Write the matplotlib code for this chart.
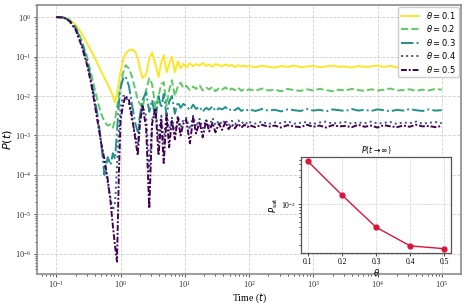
import numpy as np
import matplotlib
matplotlib.use("Agg")
import matplotlib.pyplot as plt

plt.rcParams['font.family'] = ['Liberation Serif', 'DejaVu Serif']
plt.rcParams['mathtext.fontset'] = 'dejavusans'

# time grid
t = [0.1, 0.13, 0.16, 0.2, 0.25, 0.3, 0.35, 0.4, 0.45, 0.5,
     0.56, 0.63, 0.7, 0.76, 0.82, 0.88, 0.94, 1.0, 1.1, 1.2,
     1.35, 1.5, 1.7, 1.85, 2.0, 2.2, 2.5, 2.8, 3.1, 3.5,
     3.9, 4.3, 4.7, 5.2, 5.7, 6.3, 7.0, 7.8, 8.6, 9.5,
     10.5, 12, 13.5, 15, 17, 19, 21.5, 24, 27, 30,
     34, 38, 43, 48, 54, 60, 68, 76, 85, 95,
     100, 126, 158, 200, 251, 316, 398, 501, 631, 794,
     1000, 1260, 1580, 2000, 2510, 3160, 3980, 5010, 6310, 7940,
     10000, 12600, 15800, 20000, 25100, 31600, 39800, 50100, 63100, 79400,
     100000]

# log10 P(t) for each theta
logp_01 = [0, -0.01, -0.06, -0.2, -0.42, -0.66, -0.86, -1.04, -1.22, -1.38,
           -1.54, -1.7, -1.86, -2.0, -2.16, -1.95, -1.65, -1.38, -1.08, -0.92,
           -0.84, -0.82, -0.88, -1.05, -1.3, -1.55, -1.45, -1.05, -0.9, -1.2,
           -1.52, -1.15, -0.96, -1.4, -1.2, -1.0, -1.4, -1.12, -1.3, -1.18,
           -1.28, -1.17, -1.25, -1.19, -1.23, -1.16, -1.24, -1.2, -1.26, -1.19,
           -1.22, -1.25, -1.2, -1.24, -1.21, -1.27, -1.22, -1.25, -1.23, -1.26,
           -1.24, -1.27, -1.23, -1.26, -1.28, -1.24, -1.26, -1.23, -1.27, -1.25,
           -1.24, -1.27, -1.25, -1.23, -1.26, -1.25, -1.28, -1.24, -1.26, -1.25,
           -1.23, -1.26, -1.24, -1.27, -1.25, -1.24, -1.26, -1.23, -1.25, -1.27,
           -1.25]
logp_02 = [0, -0.01, -0.07, -0.24, -0.6, -1.0, -1.45, -1.85, -2.2, -2.45,
           -2.65, -2.75, -2.72, -2.8, -2.6, -2.3, -2.0, -1.75, -1.4, -1.22,
           -1.3, -1.5, -1.85, -2.1, -2.2, -2.3, -1.85, -1.55, -1.7, -2.3,
           -2.0, -1.7, -1.65, -2.25, -1.85, -1.6, -2.0, -1.75, -1.66, -1.8,
           -1.74, -1.85, -1.76, -1.82, -1.73, -1.86, -1.79, -1.83, -1.77, -1.88,
           -1.8, -1.84, -1.78, -1.86, -1.81, -1.85, -1.79, -1.87, -1.82, -1.85,
           -1.83, -1.87, -1.81, -1.86, -1.84, -1.88, -1.82, -1.85, -1.87, -1.83,
           -1.86, -1.82, -1.85, -1.88, -1.84, -1.86, -1.82, -1.85, -1.87, -1.83,
           -1.86, -1.84, -1.81, -1.86, -1.85, -1.83, -1.87, -1.84, -1.86, -1.82,
           -1.84]
logp_03 = [0, -0.01, -0.08, -0.27, -0.65, -1.1, -1.6, -2.1, -2.6, -3.2,
           -4.0, -3.55, -3.75, -3.45, -3.6, -2.9, -2.2, -1.8, -1.55, -1.5,
           -1.75, -2.2, -2.7, -2.9, -2.5, -2.1, -1.9, -2.4, -2.1, -2.6,
           -2.0, -2.3, -1.95, -2.5, -2.15, -2.0, -2.45, -2.15, -2.3, -2.2,
           -2.25, -2.36, -2.22, -2.33, -2.27, -2.4, -2.3, -2.35, -2.26, -2.38,
           -2.31, -2.34, -2.28, -2.37, -2.32, -2.36, -2.3, -2.38, -2.33, -2.36,
           -2.34, -2.38, -2.33, -2.37, -2.35, -2.39, -2.34, -2.36, -2.38, -2.33,
           -2.37, -2.35, -2.39, -2.34, -2.36, -2.38, -2.33, -2.37, -2.35, -2.38,
           -2.34, -2.36, -2.39, -2.35, -2.37, -2.33, -2.36, -2.38, -2.34, -2.37,
           -2.36]
logp_04 = [0, -0.01, -0.09, -0.3, -0.7, -1.15, -1.65, -2.2, -2.7, -3.2,
           -3.7, -4.2, -4.6, -4.9, -4.7, -3.8, -2.9, -2.3, -2.0, -2.0,
           -2.2, -2.6, -3.0, -3.2, -2.6, -2.25, -2.5, -3.9, -2.6, -2.35,
           -3.0, -2.5, -3.2, -2.4, -2.9, -2.55, -3.0, -2.5, -2.8, -2.6,
           -2.55, -2.85, -2.5, -2.78, -2.58, -2.82, -2.6, -2.76, -2.56, -2.74,
           -2.62, -2.72, -2.6, -2.75, -2.63, -2.72, -2.62, -2.7, -2.64, -2.71,
           -2.66, -2.7, -2.65, -2.71, -2.67, -2.69, -2.64, -2.7, -2.68, -2.66,
           -2.71, -2.67, -2.65, -2.7, -2.68, -2.66, -2.7, -2.67, -2.69, -2.65,
           -2.7, -2.68, -2.66, -2.71, -2.67, -2.69, -2.65, -2.7, -2.68, -2.66,
           -2.69]
logp_05 = [0, -0.01, -0.1, -0.32, -0.75, -1.2, -1.7, -2.25, -2.75, -3.2,
           -3.6, -4.1, -4.7, -5.3, -5.8, -6.2, -4.0, -2.6, -2.2, -2.0,
           -2.1, -2.5, -3.1, -3.5, -2.7, -2.25, -2.8, -4.85, -2.7, -2.3,
           -3.5, -2.6, -3.7, -2.5, -3.3, -2.6, -3.1, -2.55, -3.0, -2.7,
           -2.6, -3.2, -2.55, -2.95, -2.65, -3.05, -2.62, -2.9, -2.68, -2.92,
           -2.7, -2.86, -2.66, -2.84, -2.72, -2.82, -2.7, -2.8, -2.73, -2.79,
           -2.74, -2.79, -2.73, -2.78, -2.75, -2.8, -2.74, -2.77, -2.79, -2.73,
           -2.78, -2.75, -2.8, -2.74, -2.77, -2.76, -2.79, -2.73, -2.78, -2.75,
           -2.8, -2.74, -2.77, -2.79, -2.75, -2.78, -2.73, -2.77, -2.76, -2.79,
           -2.76]

thetas = [0.1, 0.2, 0.3, 0.4, 0.5]
p_sat = [0.056, 0.0145, 0.0040, 0.0019, 0.0017]

series = [logp_01, logp_02, logp_03, logp_04, logp_05]
styles = ['-', '--', '-.', ':', (0, (3, 1, 1, 1))]
colors = plt.cm.viridis(np.linspace(1, 0, 5))

fig = plt.figure(figsize=(4.69, 3.06), dpi=100)
ax = fig.add_axes([0.079, 0.105, 0.904, 0.879])

for th, lp, ls, c in zip(thetas, series, styles, colors):
    ax.plot(t, 10.0 ** np.array(lp), ls=ls, color=c, lw=1.4,
            label=rf'$\theta = {th}$')

ax.set_xscale('log')
ax.set_yscale('log')
ax.grid(True, which='major', ls='--', color='#d0d0d0', lw=0.6)
for s in ax.spines.values():
    s.set_color('#8c8c8c')
    s.set_linewidth(1.2)
ax.tick_params(which='both', labelsize=6, colors='#333333', length=2.5, width=0.6, pad=1.5)
ax.tick_params(which='minor', length=1.5)
ax.set_xlabel('Time ($t$)', fontsize=7, labelpad=0.5)
ax.set_ylabel('$P(t)$', fontsize=8, labelpad=0.5)

leg = ax.legend(loc='upper right', fontsize=6, frameon=True, fancybox=True,
                edgecolor='#cccccc', framealpha=1.0, borderpad=0.3,
                labelspacing=0.3, handlelength=2.2, borderaxespad=0.3)
for txt in leg.get_texts():
    txt.set_family('DejaVu Sans')

# inset: saturation value
ins = fig.add_axes([0.642, 0.173, 0.320, 0.314])
ins.plot(thetas, p_sat, 'o-', color='#dc143c', lw=1, ms=3.5)
ins.set_yscale('log')
ins.grid(True, which='major', ls='--', color='#d0d0d0', lw=0.5)
for s in ins.spines.values():
    s.set_color('#555555')
    s.set_linewidth(0.9)
ins.set_xticks(thetas)
ins.tick_params(which='both', labelsize=5.5, length=2, width=0.5, pad=1.5)
ins.tick_params(which='minor', length=1.2)
ins.set_title(r'$P(t\to\infty)$', fontsize=5.5, pad=3)
ins.set_xlabel(r'$\theta$', fontsize=6, labelpad=1)
ins.set_ylabel(r'$P_{\rm sat}$', fontsize=6, labelpad=1)

fig.savefig('out.png', dpi=100)
